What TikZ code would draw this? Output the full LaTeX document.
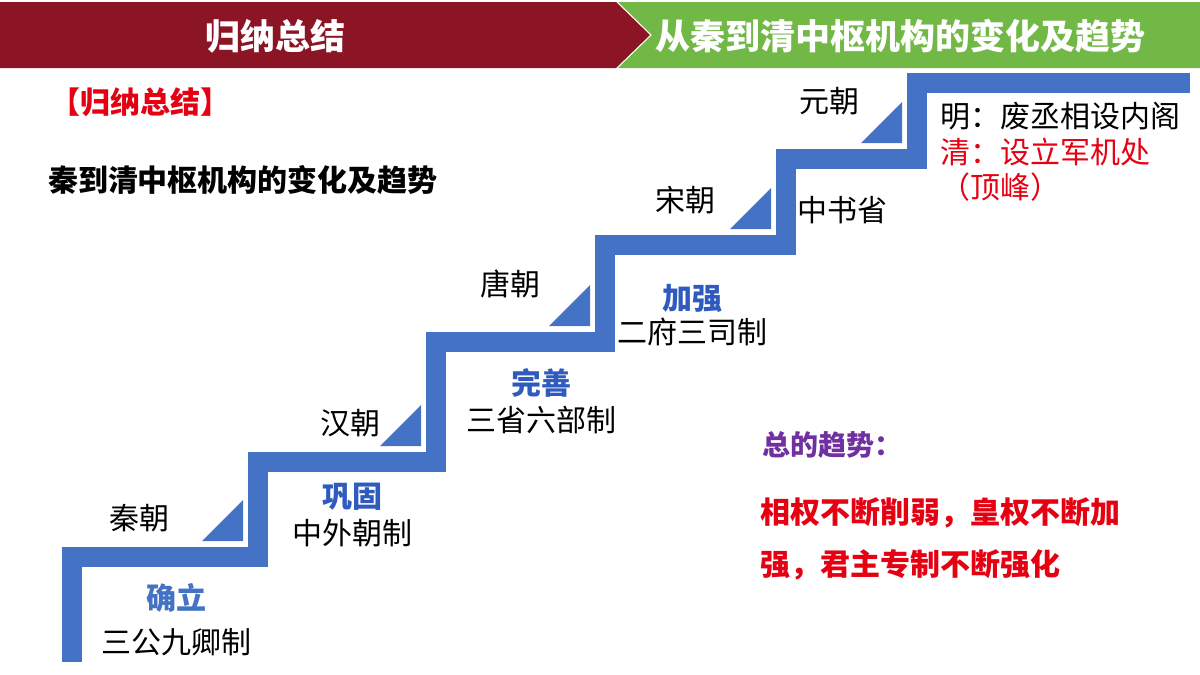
\documentclass[tikz,border=0pt]{standalone}
\usepackage{fontspec}
\setmainfont{Noto Sans CJK SC}
\begin{document}
\begin{tikzpicture}[x=1pt,y=-1pt,
  t/.style={inner sep=0pt,font=\fontsize{30}{32}\selectfont},
  tb/.style={inner sep=0pt,font=\fontsize{30}{32}\selectfont\bfseries},
  tri/.style={fill=stair}]
\definecolor{hred}{HTML}{8B1425}\definecolor{hgreen}{HTML}{72B846}
\definecolor{stair}{HTML}{4472C4}\definecolor{tblue}{HTML}{2F5BBF}
\definecolor{tred}{HTML}{E50012}\definecolor{tpurple}{HTML}{7030A0}
\useasboundingbox (0,0) rectangle (1200,675);
\fill[hred] (0,2) -- (616,2) -- (650,35) -- (616,68) -- (0,68) -- cycle;
\fill[hgreen] (618,2) -- (1200,2) -- (1200,68) -- (618,68) -- (652,35) -- cycle;
\node[tb,text=white,font=\fontsize{35}{37}\selectfont\bfseries] (h1) at (275,36) {归纳总结};
\node[tb,text=white,font=\fontsize{35}{37}\selectfont\bfseries] (h2) at (900,36) {从秦到清中枢机构的变化及趋势};
\draw[stair,line width=20pt] (72,662) -- (72,557) -- (258,557) -- (258,462) -- (436,462) -- (436,342) -- (605,342) -- (605,245) -- (786,245) -- (786,159) -- (917,159) -- (917,83) -- (1190,83);
\foreach \x/\y in {258/557,436/462,605/342,786/245,917/159}
  \fill[stair] (\x-15,\y-16) -- (\x-15,\y-57) -- (\x-56,\y-16) -- cycle;
\node[tb,text=tred] (g) at (140,102) {【归纳总结】};
\node[tb] (s) at (243,180) {秦到清中枢机构的变化及趋势};
\node[t] (qin) at (139,518) {秦朝};
\node[tb,text=stair] (q1) at (176,598) {确立};
\node[t] (q2) at (176,642) {三公九卿制};
\node[t] (han) at (350,423) {汉朝};
\node[tb,text=tblue] (h1b) at (352,497) {巩固};
\node[t] (h2b) at (352,533) {中外朝制};
\node[t] (tang) at (510,284) {唐朝};
\node[tb,text=tblue] (t1) at (541,383) {完善};
\node[t] (t2) at (541,420) {三省六部制};
\node[t] (song) at (685,200) {宋朝};
\node[tb,text=tblue] (s1) at (692,298) {加强};
\node[t] (s2) at (692,332) {二府三司制};
\node[t] (yuan) at (829,101) {元朝};
\node[t] (y1) at (842,210) {中书省};
\node[t,anchor=west] (m) at (940,116) {明：废丞相设内阁};
\node[t,anchor=west,text=tred] (c) at (940,152) {清：设立军机处};
\node[t,text=tred] (c2) at (1000,187) {（顶峰）};
\node[tb,text=tpurple,font=\fontsize{28}{30}\selectfont\bfseries] (z) at (832,445) {总的趋势：};
\node[tb,anchor=west,text=tred] (r1) at (760,513) {相权不断削弱，皇权不断加};
\node[tb,anchor=west,text=tred] (r2) at (760,565) {强，君主专制不断强化};
\end{tikzpicture}
\end{document}
